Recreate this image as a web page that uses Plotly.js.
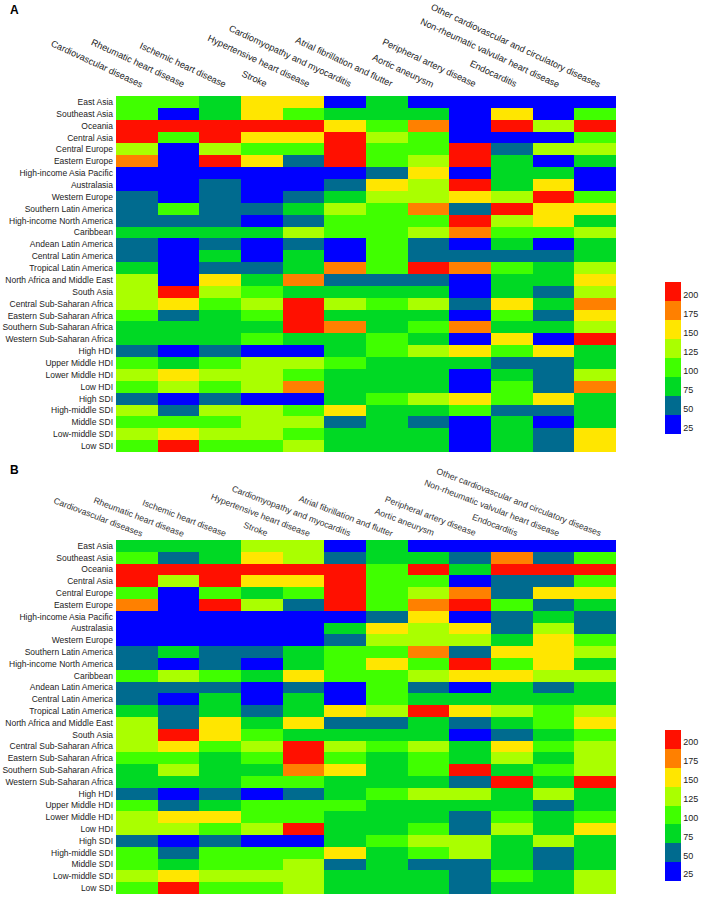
<!DOCTYPE html>
<html><head><meta charset="utf-8">
<script src="https://cdn.plot.ly/plotly-3.0.1.min.js"></script>
<style>html,body{margin:0;padding:0;background:#fff}</style>
</head><body>
<div id="chart" style="width:708px;height:908px"></div>
<script>
const diseases = ["Cardiovascular diseases","Rheumatic heart disease","Ischemic heart disease","Stroke","Hypertensive heart disease","Cardiomyopathy and myocarditis","Atrial fibrillation and flutter","Aortic aneurysm","Peripheral artery disease","Endocarditis","Non-rheumatic valvular heart disease","Other cardiovascular and circulatory diseases"];
const regions = ["East Asia","Southeast Asia","Oceania","Central Asia","Central Europe","Eastern Europe","High-income Asia Pacific","Australasia","Western Europe","Southern Latin America","High-income North America","Caribbean","Andean Latin America","Central Latin America","Tropical Latin America","North Africa and Middle East","South Asia","Central Sub-Saharan Africa","Eastern Sub-Saharan Africa","Southern Sub-Saharan Africa","Western Sub-Saharan Africa","High HDI","Upper Middle HDI","Lower Middle HDI","Low HDI","High SDI","High-middle SDI","Middle SDI","Low-middle SDI","Low SDI"];

const valuesA = [
[112,112,87,162,162,37,87,37,37,37,37,37],
[112,37,87,162,112,87,87,87,37,162,37,112],
[212,212,212,212,212,162,112,187,37,212,137,212],
[212,112,212,162,162,212,137,112,37,37,37,112],
[137,37,137,112,112,212,112,112,212,62,137,137],
[187,37,212,162,62,212,112,137,212,87,37,87],
[37,37,37,37,37,37,62,162,37,87,87,37],
[37,37,62,37,37,62,162,137,212,87,162,37],
[62,37,62,37,62,87,137,137,162,137,212,112],
[62,112,62,62,87,137,112,187,62,212,162,162],
[62,62,62,37,62,112,112,112,212,137,162,87],
[87,87,87,87,137,112,112,137,187,112,112,137],
[62,37,62,37,62,37,112,62,37,87,37,87],
[62,37,87,37,87,37,112,62,62,62,62,87],
[87,37,62,62,87,187,112,212,187,112,87,137],
[137,37,162,87,187,62,62,62,37,87,87,162],
[137,212,137,112,87,87,87,87,37,87,62,137],
[137,162,112,137,212,137,112,137,62,162,87,187],
[112,62,87,112,212,87,87,87,37,112,62,162],
[87,87,87,87,212,187,87,112,187,87,87,137],
[87,87,87,112,87,87,112,87,37,162,37,212],
[62,37,62,37,37,87,112,137,162,112,162,87],
[112,87,112,137,137,112,87,87,87,62,62,87],
[137,162,137,137,112,87,87,87,37,87,62,137],
[112,137,112,137,187,87,87,87,37,112,62,187],
[62,37,62,37,37,87,112,137,162,112,162,87],
[137,62,137,137,112,162,87,87,112,62,62,87],
[112,112,112,137,137,62,87,62,37,87,37,87],
[137,162,137,137,112,87,87,87,37,87,62,162],
[112,212,112,112,137,87,87,87,37,87,62,162]
];

const valuesB = [
[87,87,87,137,137,37,87,37,37,37,37,37],
[112,62,87,162,137,62,87,87,62,187,62,112],
[212,212,212,212,212,212,112,212,87,212,212,212],
[212,137,212,162,162,212,112,112,37,62,62,112],
[112,37,112,87,112,212,112,137,187,62,162,162],
[187,37,212,137,62,212,112,187,212,112,62,87],
[37,37,37,37,37,37,62,162,37,62,87,62],
[37,37,37,37,37,87,162,137,162,62,137,62],
[37,37,37,37,37,62,137,137,137,87,162,112],
[62,87,62,62,87,112,112,187,62,162,162,137],
[62,37,62,37,87,112,162,112,212,112,162,87],
[112,137,112,87,162,112,112,137,162,162,137,137],
[62,62,62,37,62,37,112,62,37,87,62,87],
[62,37,87,37,87,37,112,87,87,87,87,87],
[87,62,87,62,87,162,137,212,162,137,112,137],
[137,62,162,87,162,62,62,87,62,87,112,162],
[137,212,162,112,87,87,87,87,37,62,87,112],
[137,162,112,137,212,137,112,137,87,162,112,137],
[112,112,87,112,212,112,87,112,87,137,87,137],
[87,137,87,87,187,162,87,112,212,87,112,137],
[87,87,87,112,112,87,87,87,62,212,87,212],
[62,37,62,37,62,87,112,137,137,87,137,87],
[112,62,87,112,112,112,87,87,87,87,62,87],
[137,162,162,112,112,87,87,87,62,112,87,112],
[137,137,112,137,212,87,87,112,62,137,87,162],
[62,37,62,37,37,87,112,137,137,87,137,87],
[112,62,112,112,112,162,87,112,137,87,62,87],
[112,87,112,112,137,62,87,62,62,87,62,87],
[137,162,137,137,137,87,87,87,62,112,87,137],
[112,212,112,112,137,87,87,87,62,87,87,137]
];

const binColors = ["#0000FF","#006B8F","#00D924","#40FF00","#AAFF00","#FFE600","#FF8000","#FF1000"];
const tickVals = [25,50,75,100,125,150,175,200];

function stepScale(colors){
  const s = [], n = colors.length;
  colors.forEach((c,i)=>{ s.push([i/n,c]); s.push([(i+1)/n,c]); });
  return s;
}
const cs = stepScale(binColors);
const FONT = "Arial, 'Liberation Sans', sans-serif";

function cbar(yc, len){
  return {x:1.0986, xanchor:'left', xpad:0, ypad:0, y:yc, yanchor:'middle',
    len:len, lenmode:'pixels', thickness:16, thicknessmode:'pixels',
    outlinewidth:0, tickvals:tickVals, ticktext:tickVals.map(String), ticks:'',
    ticklabelposition:'outside top',
    tickfont:{size:9, family:FONT, color:'#222'}};
}

const traceA = {type:'heatmap', x:diseases, y:regions, z:valuesA, zmin:25, zmax:225,
  colorscale:cs, xaxis:'x', yaxis:'y', colorbar:cbar(0.6711, 152)};
const traceB = {type:'heatmap', x:diseases, y:regions, z:valuesB, zmin:25, zmax:225,
  colorscale:cs, xaxis:'x2', yaxis:'y2', colorbar:cbar(0.1115, 151)};

const xRange = [-0.5, diseases.length - 0.5];
const xcommon = {side:'top', ticks:'', showgrid:false, zeroline:false, showline:false,
  showticklabels:false, autorange:false, range:xRange, type:'category'};
const ycommon = {autorange:'reversed', ticks:'', showgrid:false, zeroline:false, showline:false,
  tickfont:{size:8.5, family:FONT, color:'#222'}, ticklabelstandoff:2};

// column labels drawn as rotated text, ending at each column's centre just above the cells
function colLabels(xref, yref, angle, size, color, xshift, yshift){
  return diseases.map((d,i)=>({text:d, xref:xref, yref:yref, x:i, y:1,
    xanchor:'right', yanchor:'bottom', xshift:xshift, yshift:yshift,
    textangle:angle, showarrow:false, font:{size:size, family:FONT, color:color}}));
}

const annotations = [].concat(
  colLabels('x','y domain',25,9.2,'#222',10,4),
  colLabels('x2','y2 domain',21,8.7,'#333',10,-1),
  [
    {text:'<b>A</b>', xref:'paper', yref:'paper', x:-0.217, y:1.1078, xanchor:'left', yanchor:'middle', showarrow:false, font:{size:12, family:FONT, color:'#000'}},
    {text:'<b>B</b>', xref:'paper', yref:'paper', x:-0.217, y:0.5313, xanchor:'left', yanchor:'middle', showarrow:false, font:{size:12, family:FONT, color:'#000'}}
  ]);

const layout = {
  width:708, height:908,
  margin:{l:116, r:85, t:96, b:14},
  paper_bgcolor:'#fff', plot_bgcolor:'#fff',
  font:{family:FONT},
  showlegend:false,
  xaxis:Object.assign({domain:[0,1], anchor:'y'}, xcommon),
  yaxis:Object.assign({domain:[0.5539,1], anchor:'x'}, ycommon),
  xaxis2:Object.assign({domain:[0,1], anchor:'y2'}, xcommon),
  yaxis2:Object.assign({domain:[0,0.4436], anchor:'x2'}, ycommon),
  annotations:annotations
};

Plotly.newPlot('chart', [traceA, traceB], layout, {displayModeBar:false, staticPlot:true});
</script>
</body></html>
